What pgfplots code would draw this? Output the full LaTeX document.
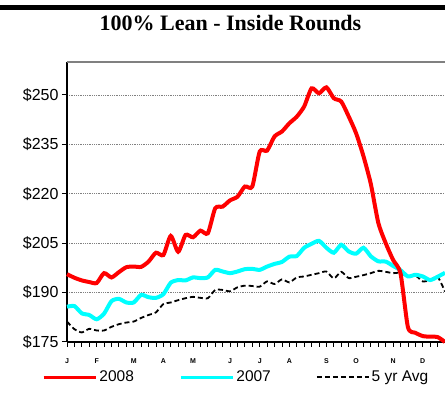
\documentclass[border=0pt]{standalone}
\usepackage{pgfplots}
\usepackage{pgfplotstable}
\pgfplotsset{compat=1.18}
\usepackage{fontspec}
\setmainfont{Liberation Sans}
\newfontfamily\timesfont{Liberation Serif}
\definecolor{cRed}{RGB}{255,0,0}
\definecolor{cCyan}{RGB}{0,255,255}
\pgfplotstableread{
w r c a
0 195.6 185.7 181.2
1 194.5 185.9 178.9
2 193.7 183.7 177.9
3 193.2 183.2 179.0
4 192.9 181.9 178.5
5 195.9 183.6 178.5
6 194.6 187.4 179.6
7 196.2 188.1 180.4
8 197.7 187.0 180.9
9 197.9 187.0 181.2
10 197.8 189.3 182.3
11 199.4 188.6 183.2
12 202.1 188.4 184.0
13 201.4 189.5 186.5
14 207.2 193.0 187.0
15 202.4 193.8 187.7
16 207.5 193.7 188.3
17 206.8 194.6 188.7
18 208.8 194.4 188.4
19 208.0 194.6 188.3
20 215.6 196.9 190.8
21 216.1 196.4 190.8
22 218.0 195.9 190.4
23 219.1 196.4 191.6
24 222.2 197.1 192.1
25 222.2 197.2 192.0
26 232.8 196.9 191.8
27 233.1 197.9 193.4
28 237.4 198.7 192.6
29 238.9 199.3 194.0
30 241.4 200.9 193.1
31 243.4 201.1 194.6
32 246.5 203.6 194.9
33 252.0 204.8 195.4
34 250.5 205.7 195.9
35 252.3 203.6 196.4
36 249.0 202.1 194.3
37 248.0 204.5 196.3
38 243.5 202.5 194.4
39 238.4 201.8 194.8
40 231.4 203.6 195.3
41 222.9 201.0 195.9
42 211.2 199.5 196.6
43 205.0 199.4 196.3
44 199.9 198.1 195.9
45 195.8 196.8 196.0
46 179.5 194.9 194.8
47 177.8 195.4 195.2
48 176.8 194.9 193.4
49 176.6 193.8 193.8
50 176.5 194.8 194.8
51 175.0 196.0 190.3
}\data
\begin{document}
\begin{tikzpicture}[x=1pt,y=1pt]
\path[use as bounding box] (0,0) rectangle (445,403);
\fill[black] (0,393) rectangle (445,398);
\node[font=\timesfont\bfseries\fontsize{22}{24}\selectfont, anchor=base, inner sep=0pt] at (230.5,372) {100\% Lean - Inside Rounds};
\begin{axis}[
  at={(67pt,61pt)}, anchor=south west, scale only axis,
  width=378pt, height=280pt,
  xmin=0, xmax=51, ymin=175, ymax=260,
  clip=false,
  axis x line*=bottom, axis y line*=left,
  axis line style={black, line width=1.5pt},
  tick align=outside,
  ytick={175,190,205,220,235,250},
  yticklabels={\$175,\$190,\$205,\$220,\$235,\$250},
  yticklabel style={font=\fontsize{16}{18}\selectfont},
  ytick style={black, line width=1pt},
  major tick length=5pt,
  ymajorgrids,
  grid style={gray, line width=0.8pt, densely dotted},
  xtick={0,...,51},
  xticklabels={},
  xtick style={black, line width=0.8pt},
  extra x ticks={0,4,9,13,17,22,26,30,35,39,44,48},
  extra x tick labels={J,F,M,A,M,J,J,A,S,O,N,D},
  extra x tick style={major tick length=0pt, grid=none,
    tick label style={font=\bfseries\fontsize{7}{8}\selectfont, anchor=center, yshift=-19pt}},
  legend columns=3,
  legend style={draw=none, fill=none, at={(-0.0669,-0.126)}, anchor=west, inner sep=0pt,
    font=\fontsize{15.5}{17}\selectfont,
    /tikz/every even column/.append style={column sep=43pt}},
  legend image code/.code={\draw[#1] (0pt,0pt) -- (52pt,0pt);},
]
\draw[gray, line width=1.2pt] (rel axis cs:0,1) -- (rel axis cs:1,1);
\addlegendimage{cRed, line width=3.5pt}
\addlegendimage{cCyan, line width=3.5pt}
\addlegendimage{black, line width=1.8pt, dash pattern=on 5pt off 3pt}
\addplot[black, line width=1.8pt, dash pattern=on 5pt off 3pt, smooth, tension=0.4, forget plot] table[x=w,y=a] {\data};
\addplot[cCyan, line width=4pt, smooth, tension=0.4, forget plot] table[x=w,y=c] {\data};
\addplot[cRed, line width=4pt, smooth, tension=0.4, forget plot] table[x=w,y=r] {\data};
\legend{2008,2007,5 yr Avg}
\end{axis}
\end{tikzpicture}
\end{document}
